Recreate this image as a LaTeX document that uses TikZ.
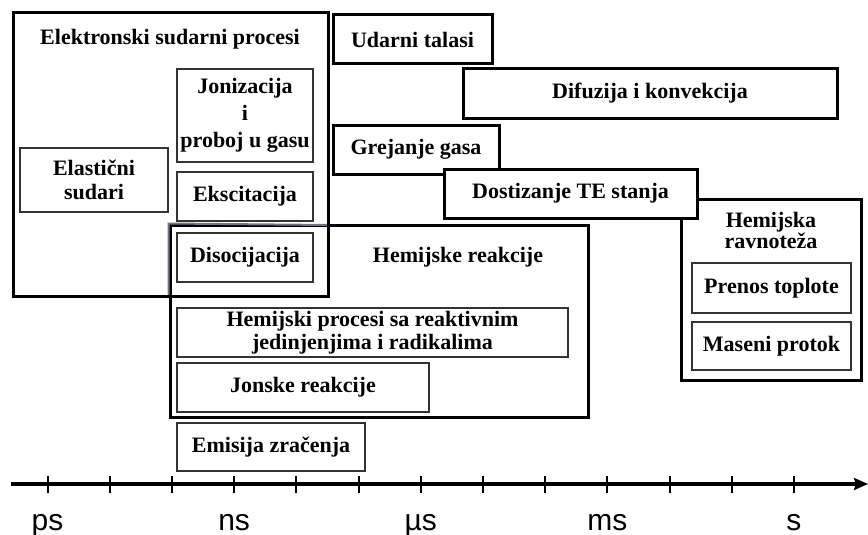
\documentclass[tikz,border=0pt]{standalone}
\usepackage{fontspec}
\setmainfont{Liberation Serif}
\newfontfamily\axisfont{Liberation Sans}
\usetikzlibrary{arrows.meta}
\begin{document}
\begin{tikzpicture}[x=1pt,y=-1pt,
  box/.style={draw=black!80,line width=1.2pt,fill=white,inner sep=1pt,align=center,
    font=\fontsize{22}{24}\selectfont\bfseries},
  thickbox/.style={box,draw=black,line width=3pt},
  lbl/.style={inner sep=0pt,align=center,font=\fontsize{22}{24}\selectfont\bfseries},
  tlbl/.style={inner sep=0pt,anchor=base,font=\fontsize{30}{30}\selectfont\axisfont}]
\useasboundingbox (0,0) rectangle (868,535);
% chemical reactions frame (behind the electron frame)
\node[thickbox,minimum width=418pt,minimum height=192pt] (hemreak) at (379,321) {};
\draw[draw=gray!90!blue,line width=2pt] (hemreak.south west |- 0,297) -- (hemreak.north west) -- (328,225);
\node[lbl] (hemreaklbl) at (458,257) {Hemijske reakcije};
\node[box,minimum width=391pt,minimum height=49pt] (hproc) at (372.5,332.5) {Hemijski procesi sa reaktivnim\\[-1pt]jedinjenjima i radikalima};
\node[box,minimum width=252pt,minimum height=49pt] (jonske) at (303,387.5) {Jonske reakcije};
% electron collision processes
\draw[line width=3pt] (13,13) rectangle (328,296);
\node[lbl] (elektr) at (170,39) {Elektronski sudarni procesi};
\node[box,minimum width=136pt,minimum height=93pt] (jon) at (245,115.5) {Jonizacija\\[3pt]i\\[3pt]proboj u gasu};
\node[box,minimum width=148pt,minimum height=64pt] (elast) at (94,180) {Elastični\\sudari};
\node[box,minimum width=136pt,minimum height=49pt] (eksc) at (245,196.5) {Ekscitacija};
\node[box,minimum width=136pt,minimum height=49pt] (disoc) at (245,257.5) {Disocijacija};
\node[box,minimum width=188pt,minimum height=48pt] (emisija) at (271,447) {Emisija zračenja};
% gas dynamics
\node[thickbox,minimum width=159pt,minimum height=49pt] (udarni) at (412.5,39.5) {Udarni talasi};
\node[thickbox,minimum width=374pt,minimum height=49pt] (difuz) at (650,93.5) {Difuzija i konvekcija};
\node[thickbox,minimum width=166pt,minimum height=49pt] (grej) at (416,149.5) {Grejanje gasa};
% chemical equilibrium
\node[thickbox,minimum width=180pt,minimum height=181pt] (hemrav) at (771,289.5) {};
\node[lbl] (hemravlbl) at (771,230) {Hemijska\\[-3pt]ravnoteža};
\node[box,minimum width=159pt,minimum height=50pt] (prenos) at (771.5,288) {Prenos toplote};
\node[box,minimum width=159pt,minimum height=48pt] (maseni) at (771.5,346) {Maseni protok};
\node[thickbox,minimum width=253pt,minimum height=49pt] (dostiz) at (570.5,193.5) {Dostizanje TE stanja};
% time axis
\coordinate (axl) at (11,484);
\coordinate (axr) at (868,484);
\draw[line width=3.5pt,-{Stealth[length=14pt,width=12pt,inset=2pt]}] (axl) -- (axr);
\foreach \k in {0,...,12}
  \draw[line width=2pt] (47.5+62.2*\k,476) -- (47.5+62.2*\k,493);
\foreach \k/\t in {0/ps,3/ns,6/µs,9/ms,12/s}
  \node[tlbl] (t\k) at (47.5+62.2*\k,530) {\t};
\end{tikzpicture}
\end{document}
